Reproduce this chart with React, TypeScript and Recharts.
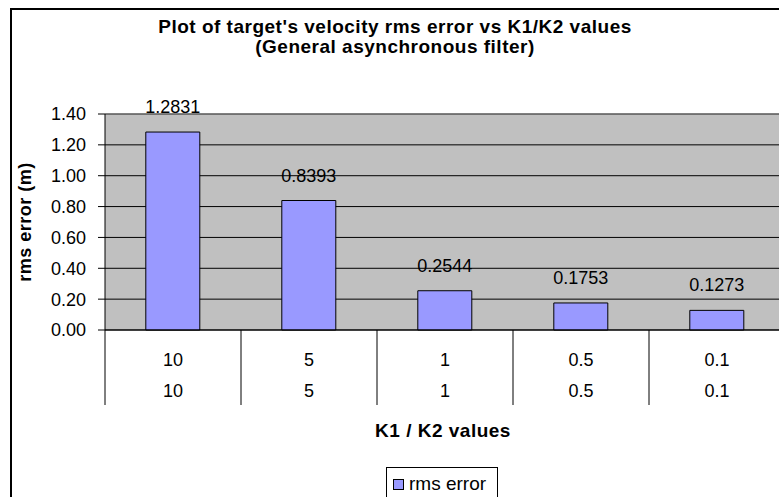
import { BarChart, Bar, XAxis, YAxis, CartesianGrid, ReferenceLine, LabelList, Legend } from "recharts";

const k1Values = ["10", "5", "1", "0.5", "0.1"];
const k2Values = ["10", "5", "1", "0.5", "0.1"];
const rmsError = [1.2831, 0.8393, 0.2544, 0.1753, 0.1273];
const yTicks = [0, 0.2, 0.4, 0.6, 0.8, 1.0, 1.2, 1.4];

const data = k1Values.map((k, i) => ({ k1: k, rms: rmsError[i] }));

const CHART_W = 800;
const CHART_H = 497;
const Y_W = 105;
const MARGIN = { top: 114, right: 15, bottom: 52, left: 0 };
const PLOT_W = CHART_W - MARGIN.left - MARGIN.right - Y_W;

// two rows of category labels (K1 over K2) with separators between categories
const KTick = (props: any) => {
  const { x, y, payload, index } = props;
  const band = PLOT_W / k1Values.length;
  const left = x - band / 2;
  const right = x + band / 2;
  return (
    <g>
      <line x1={left} x2={left} y1={y} y2={y + 75} stroke="#000" />
      {index === k1Values.length - 1 && <line x1={right} x2={right} y1={y} y2={y + 75} stroke="#000" />}
      <text x={x} y={y + 36} textAnchor="middle" fontSize={18} fill="#000">
        {payload.value}
      </text>
      <text x={x} y={y + 67} textAnchor="middle" fontSize={18} fill="#000">
        {k2Values[index]}
      </text>
    </g>
  );
};

const LegendBox = (props: any) => {
  const item = props.payload && props.payload[0];
  return (
    <div
      style={{
        border: "1px solid #000",
        background: "#fff",
        height: 34,
        width: 112,
        boxSizing: "border-box",
        display: "flex",
        alignItems: "center",
        paddingLeft: 6,
        fontSize: 19,
      }}
    >
      <span style={{ width: 9, height: 9, background: "#9999FF", border: "1px solid #000", marginRight: 5 }} />
      <span>{item ? item.value : ""}</span>
    </div>
  );
};

export default function App() {
  return (
    <div
      style={{
        position: "absolute",
        left: 0,
        top: 0,
        width: 779,
        height: 497,
        overflow: "hidden",
        background: "#fff",
        fontFamily: "'Liberation Sans', Arial, sans-serif",
        color: "#000",
      }}
    >
      <div style={{ position: "absolute", left: 10, top: 8, width: 900, height: 600, border: "2px solid #000" }} />
      <div
        style={{
          position: "absolute",
          left: 0,
          top: 17,
          width: 790,
          textAlign: "center",
          fontWeight: "bold",
          fontSize: 19,
          lineHeight: "20px",
          letterSpacing: 0.5,
        }}
      >
        <div>Plot of target's velocity rms error vs K1/K2 values</div>
        <div>(General asynchronous filter)</div>
      </div>
      <div style={{ position: "absolute", left: 0, top: 0 }}>
        <BarChart width={CHART_W} height={CHART_H} data={data} margin={MARGIN} barCategoryGap="30%">
          <CartesianGrid vertical={false} stroke="#000" fill="#C0C0C0" fillOpacity={1} />
          <ReferenceLine y={1.4} stroke="#808080" />
          <XAxis
            dataKey="k1"
            height={115}
            stroke="#000"
            tickLine={false}
            tickSize={0}
            tickMargin={0}
            interval={0}
            tick={<KTick />}
            label={{
              content: (p: any) => {
                const vb = p.viewBox;
                return (
                  <text
                    x={vb.x + vb.width / 2 - 2}
                    y={vb.y + vb.height - 8}
                    textAnchor="middle"
                    fontSize={19}
                    fontWeight="bold"
                    letterSpacing={0.5}
                    fill="#000"
                  >
                    K1 / K2 values
                  </text>
                );
              },
            }}
          />
          <YAxis
            width={Y_W}
            domain={[0, 1.4]}
            ticks={yTicks}
            stroke="#000"
            tickSize={7}
            tickMargin={12}
            tick={{ fill: "#000", fontSize: 18 }}
            tickFormatter={(v: number) => v.toFixed(2)}
            label={{
              content: (p: any) => {
                const vb = p.viewBox;
                const cx = vb.x + 25;
                const cy = vb.y + vb.height / 2;
                return (
                  <text
                    x={cx}
                    y={cy}
                    transform={`rotate(-90 ${cx} ${cy})`}
                    textAnchor="middle"
                    dominantBaseline="central"
                    fontSize={18}
                    fontWeight="bold"
                    letterSpacing={0.5}
                    fill="#000"
                  >
                    rms error (m)
                  </text>
                );
              },
            }}
          />
          <Legend
            layout="horizontal"
            verticalAlign="middle"
            align="center"
            wrapperStyle={{ left: 386, top: 467, width: 112, height: 34 }}
            content={<LegendBox />}
          />
          <Bar dataKey="rms" name="rms error" fill="#9999FF" stroke="#000" strokeWidth={1} isAnimationActive={false}>
            <LabelList
              dataKey="rms"
              position="top"
              offset={19}
              fontSize={18}
              fill="#000"
              formatter={(v: any) => Number(v).toFixed(4)}
            />
          </Bar>
        </BarChart>
      </div>
    </div>
  );
}
